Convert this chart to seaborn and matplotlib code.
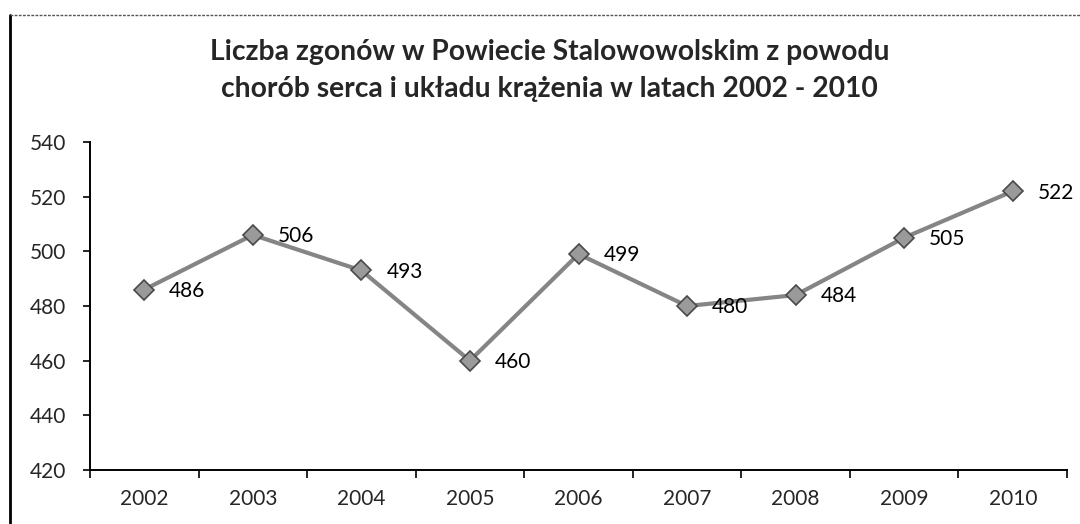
import matplotlib
matplotlib.use("Agg")
import matplotlib.pyplot as plt
import seaborn as sns
import pandas as pd
from matplotlib.lines import Line2D

# Dane: liczba zgonów z powodu chorób serca i układu krążenia
years = ["2002", "2003", "2004", "2005", "2006", "2007", "2008", "2009", "2010"]
deaths = [486, 506, 493, 460, 499, 480, 484, 505, 522]
y_ticks = [420, 440, 460, 480, 500, 520, 540]

title = ("Liczba zgonów w Powiecie Stalowowolskim z powodu\n"
         "chorób serca i układu krążenia w latach 2002 - 2010")

df = pd.DataFrame({"pos": range(len(years)), "year": years, "deaths": deaths})

sns.set_style("white")
plt.rcParams["font.family"] = ["Lato", "DejaVu Sans"]

fig = plt.figure(figsize=(10.8, 5.24), dpi=100)
ax = fig.add_axes([0.0833, 0.103, 0.9047, 0.626])

sns.lineplot(data=df, x="pos", y="deaths", ax=ax, color="#858585", linewidth=3,
             marker="D", markersize=10, markerfacecolor="#9a9a9a",
             markeredgecolor="#4a4a4a", markeredgewidth=1.2)

for x, v in zip(df["pos"], df["deaths"]):
    ax.annotate(str(v), (x, v), xytext=(18, -1), textcoords="offset points",
                ha="left", va="center", fontsize=15, color="black")

ax.set_xlim(-0.5, len(years) - 0.5)
ax.set_ylim(420, 540)
ax.set_yticks(y_ticks)
ax.set_yticklabels([str(t) for t in y_ticks], fontsize=15)
ax.set_xticks(df["pos"])
ax.set_xticklabels(years, fontsize=15)
ax.set_xticks([p + 0.5 for p in range(-1, len(years))], minor=True)
ax.tick_params(axis="x", which="major", length=0, pad=14)
ax.tick_params(axis="x", which="minor", direction="out", length=6, width=1.2, color="black", bottom=True)
ax.tick_params(axis="y", direction="out", length=5, width=1.2, color="black", left=True, pad=12)
ax.set_xlabel("")
ax.set_ylabel("")

for side in ["top", "right"]:
    ax.spines[side].set_visible(False)
for side in ["left", "bottom"]:
    ax.spines[side].set_color("black")
    ax.spines[side].set_linewidth(1.4)

fig.text(0.509, 0.865, title, ha="center", va="center", fontsize=20.3,
         fontweight="bold", linespacing=1.5)

# ramka wykresu (lewa i górna krawędź)
fig.add_artist(Line2D([0.0095, 0.0095], [0.0, 0.972], transform=fig.transFigure,
                      color="black", linewidth=2))
fig.add_artist(Line2D([0.0095, 1.0], [0.972, 0.972], transform=fig.transFigure,
                      color="#555555", linewidth=1, linestyle=(0, (2, 1))))

fig.savefig("out.png", dpi=100)
